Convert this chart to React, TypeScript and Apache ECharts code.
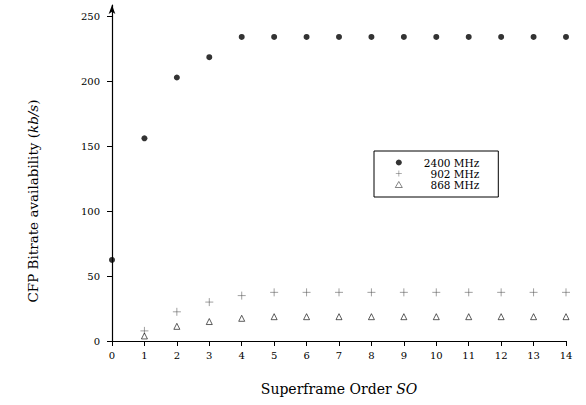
import React, { useEffect, useRef } from "react";
import * as echarts from "echarts";

const orders = ["0","1","2","3","4","5","6","7","8","9","10","11","12","13","14"];
const mhz2400 = [62.5, 156.25, 203.1, 218.75, 234.4, 234.4, 234.4, 234.4, 234.4, 234.4, 234.4, 234.4, 234.4, 234.4, 234.4];
const mhz902 = [null, 7.8, 22.5, 30, 35, 37.5, 37.5, 37.5, 37.5, 37.5, 37.5, 37.5, 37.5, 37.5, 37.5];
const mhz868 = [null, 3.9, 11.3, 15, 17.5, 18.75, 18.75, 18.75, 18.75, 18.75, 18.75, 18.75, 18.75, 18.75, 18.75];
const yTicks = [0, 50, 100, 150, 200, 250];
const seriesNames = ["2400 MHz", "902 MHz", "868 MHz"];

const FONT = "DejaVu Serif";
const PLUS = "path://M0,4H8M4,0V8";

export default function App() {
  const ref = useRef<HTMLDivElement>(null);
  useEffect(() => {
    document.body.style.margin = "0";
    const chart = echarts.init(ref.current!, null, { renderer: "svg" });
    const xCommon = {
      type: "value",
      min: 0,
      max: 14,
      interval: 1,
      splitLine: { show: false },
    };
    const yCommon = {
      type: "value",
      min: 0,
      max: 259,
      interval: 50,
      splitLine: { show: false },
    };
    chart.setOption({
      animation: false,
      textStyle: { fontFamily: FONT },
      grid: { left: 112, right: 20, top: 5, bottom: 64, containLabel: false },
      xAxis: [
        {
          ...xCommon,
          axisLine: { lineStyle: { color: "#000", width: 1.2 } },
          axisTick: { inside: false, length: 5, lineStyle: { color: "#000" } },
          axisLabel: {
            color: "#000",
            fontFamily: FONT,
            fontSize: 10,
            margin: 9,
            formatter: (v: number) => orders[v] ?? "",
          },
          name: "Superframe Order {i|SO}",
          nameLocation: "middle",
          nameGap: 41,
          nameTextStyle: {
            color: "#000",
            fontFamily: FONT,
            fontSize: 14,
            rich: { i: { fontStyle: "italic", fontFamily: FONT, fontSize: 14, color: "#000" } },
          },
        },
        {
          ...xCommon,
          axisLine: { show: false },
          axisTick: { inside: true, length: 5, lineStyle: { color: "#000" } },
          axisLabel: { show: false },
        },
      ],
      yAxis: [
        {
          ...yCommon,
          axisLine: {
            lineStyle: { color: "#000", width: 1.2 },
            symbol: ["none", "arrow"],
            symbolSize: [5, 9],
          },
          axisTick: { inside: false, length: 5, customValues: yTicks, lineStyle: { color: "#000" } },
          axisLabel: {
            color: "#000",
            fontFamily: FONT,
            fontSize: 10,
            margin: 12,
            customValues: yTicks,
          },
        },
        {
          ...yCommon,
          axisLine: { show: false },
          axisTick: { inside: true, length: 5, customValues: yTicks, lineStyle: { color: "#000" } },
          axisLabel: { show: false, customValues: yTicks },
        },
      ],
      legend: {
        orient: "vertical",
        left: 374,
        top: 151,
        backgroundColor: "#fff",
        borderColor: "#000",
        borderWidth: 1,
        borderRadius: 0,
        padding: [6, 19, 7, 21],
        itemGap: 0,
        itemWidth: 7,
        itemHeight: 6,
        itemStyle: { borderWidth: 0.6 },
        data: seriesNames,
        formatter: "{a|{name}}",
        textStyle: {
          fontFamily: FONT,
          fontSize: 10.5,
          color: "#000",
          rich: {
            a: { width: 72, align: "right", fontFamily: FONT, fontSize: 10.5, color: "#000", lineHeight: 14 },
          },
        },
      },
      graphic: [
        {
          type: "text",
          x: 33,
          y: 201,
          rotation: Math.PI / 2,
          style: {
            text: "CFP Bitrate availability ({i|kb/s})",
            fontFamily: FONT,
            fontSize: 13.5,
            fill: "#000",
            align: "center",
            verticalAlign: "middle",
            rich: { i: { fontStyle: "italic", fontFamily: FONT, fontSize: 13.5, fill: "#000" } },
          },
        },
      ],
      series: [
        {
          name: seriesNames[0],
          type: "scatter",
          symbol: "circle",
          symbolSize: 6,
          itemStyle: { color: "#000" },
          data: mhz2400.map((v, i) => [i, v]),
          z: 3,
        },
        {
          name: seriesNames[1],
          type: "scatter",
          symbol: PLUS,
          symbolSize: 8,
          itemStyle: { color: "rgba(0,0,0,0)", borderColor: "#555", borderWidth: 0.7 },
          data: mhz902.map((v, i) => [i, v]).filter((d) => d[1] !== null),
          z: 3,
        },
        {
          name: seriesNames[2],
          type: "scatter",
          symbol: "triangle",
          symbolSize: 6,
          itemStyle: { color: "#fff", borderColor: "#000", borderWidth: 0.8 },
          data: mhz868.map((v, i) => [i, v]).filter((d) => d[1] !== null),
          z: 3,
        },
      ],
    });
    return () => chart.dispose();
  }, []);
  return <div ref={ref} style={{ width: 586, height: 405 }} />;
}
